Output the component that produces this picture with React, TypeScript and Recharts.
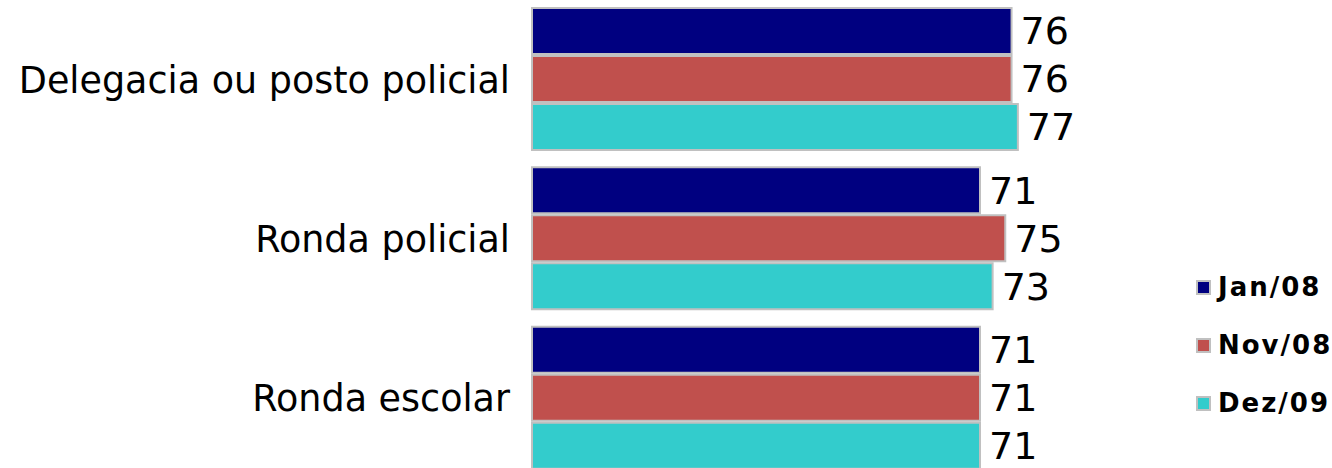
import { BarChart, Bar, XAxis, YAxis, LabelList } from "recharts"

const categories = ["Delegacia ou posto policial", "Ronda policial", "Ronda escolar"]
const jan08 = [76, 71, 71]
const nov08 = [76, 75, 71]
const dez09 = [77, 73, 71]

const series = [
  { key: "jan08", name: "Jan/08", color: "#000080" },
  { key: "nov08", name: "Nov/08", color: "#C0504D" },
  { key: "dez09", name: "Dez/09", color: "#33CCCC" },
]

const data = categories.map((name, i) => ({
  name,
  jan08: jan08[i],
  nov08: nov08[i],
  dez09: dez09[i],
}))

const FONT = "'DejaVu Sans', Verdana, sans-serif"

// legend sits to the right, outside the plot, so it doesn't eat chart height
function SideLegend() {
  return (
    <div style={{ position: "absolute", left: 1196, top: 258, fontFamily: FONT }}>
      {series.map((s) => (
        <div key={s.key} style={{ display: "flex", alignItems: "center", height: 58 }}>
          <span
            style={{
              display: "inline-block",
              width: 11,
              height: 11,
              background: s.color,
              border: "2px solid #c0c0c0",
              marginRight: 7,
            }}
          />
          <span style={{ fontSize: 26, fontWeight: "bold", letterSpacing: 2, color: "#000" }}>
            {s.name}
          </span>
        </div>
      ))}
    </div>
  )
}

export default function App() {
  return (
    <div style={{ position: "absolute", left: 0, top: 0, width: 1332, height: 468, overflow: "hidden", background: "#fff" }}>
      <BarChart
        width={1332}
        height={478}
        data={data}
        layout="vertical"
        margin={{ top: 0, right: 169, bottom: 0, left: 0 }}
        barCategoryGap={8}
        barGap={2}
        style={{ fontFamily: FONT }}
      >
        <XAxis type="number" domain={[0, 100]} hide />
        <YAxis
          type="category"
          dataKey="name"
          width={532}
          axisLine={false}
          tickLine={false}
          tickMargin={16}
          tick={{ fontSize: 36.5, fill: "#000", fontFamily: FONT }}
        />
        {series.map((s) => (
          <Bar
            key={s.key}
            dataKey={s.key}
            name={s.name}
            fill={s.color}
            stroke="#c0c0c0"
            strokeWidth={2}
            isAnimationActive={false}
          >
            <LabelList
              dataKey={s.key}
              position="right"
              offset={9}
              style={{ fontSize: 38, fill: "#000", fontFamily: FONT }}
            />
          </Bar>
        ))}
      </BarChart>
      <SideLegend />
    </div>
  )
}
